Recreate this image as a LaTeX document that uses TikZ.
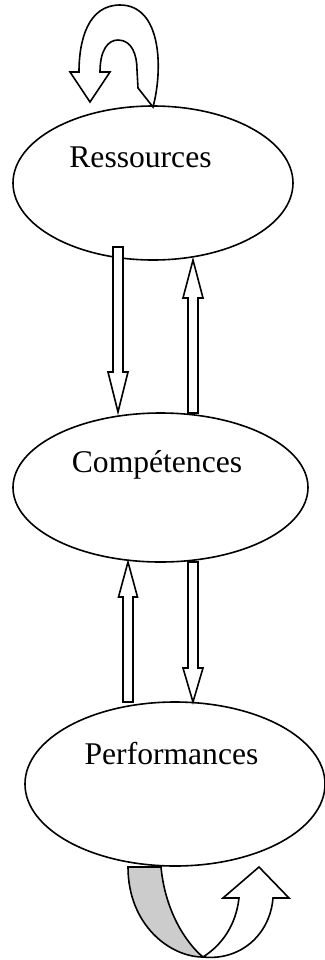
\documentclass[tikz,border=0pt]{standalone}
\usepackage{fontspec}
\setmainfont{Liberation Serif}
\usetikzlibrary{shapes.geometric}
\definecolor{ribbongray}{RGB}{204,204,204}
\begin{document}
\begin{tikzpicture}[x=0.5pt,y=-0.5pt,
  line width=0.8pt, line join=miter,
  blob/.style={draw, ellipse, inner sep=0pt},
  lbl/.style={anchor=base, inner sep=0pt, font=\fontsize{15.8}{19}\selectfont},
  blockarrow/.style={draw, fill=white}]
\useasboundingbox (0,0) rectangle (325,960);

% the three stages
\node[blob, minimum width=140pt, minimum height=77pt] (res) at (153,183) {};
\node[blob, minimum width=147.5pt, minimum height=74.5pt] (comp) at (160.5,487.5) {};
\node[blob, minimum width=150pt, minimum height=82pt] (perf) at (175,784) {};
\node[lbl] (tres) at (140.5,167) {Ressources};
\node[lbl] (tcomp) at (157,472) {Compétences};
\node[lbl] (tperf) at (171.5,764) {Performances};

% block arrows between the stages
\draw[blockarrow] (113,247) -- (123,247) -- (123,372) -- (128,372) -- (118,412)
  -- (108,372) -- (113,372) -- cycle;
\draw[blockarrow] (188,413) -- (198,413) -- (198,298) -- (203,298) -- (193,260)
  -- (183,298) -- (188,298) -- cycle;
\draw[blockarrow] (123,702) -- (133,702) -- (133,597) -- (137.5,597) -- (128,562)
  -- (118.5,597) -- (123,597) -- cycle;
\draw[blockarrow] (188,562) -- (198,562) -- (198,668) -- (203,668) -- (193,702)
  -- (183,668) -- (188,668) -- cycle;

% curved arrow above Ressources
\draw[blockarrow] (153,107) .. controls (163,70) and (162,5) .. (120,5)
  .. controls (88,5) and (79,40) .. (79,72)
  -- (70,72) -- (90,102) -- (110,72) -- (100,72)
  .. controls (100,50) and (108,40) .. (118,40)
  .. controls (132,40) and (137,55) .. (137,70)
  -- (138,88) -- cycle;

% twisted ribbon arrow below Performances
\draw[fill=ribbongray] (128,867) -- (161,867)
  .. controls (165,910) and (185,942) .. (203,957)
  .. controls (170,957) and (128,925) .. (128,867) -- cycle;
\draw[blockarrow] (203,957)
  .. controls (240,961) and (270,935) .. (273,898)
  -- (289,898) -- (259,867) -- (223,898) -- (239,898)
  .. controls (236,925) and (222,945) .. (203,957) -- cycle;
\end{tikzpicture}
\end{document}
